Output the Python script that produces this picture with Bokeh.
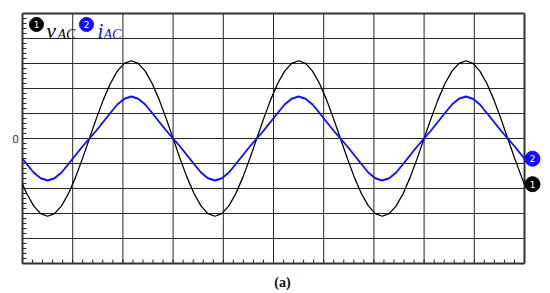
from bokeh.plotting import figure
from bokeh.models import Range1d, FixedTicker
from bokeh.core.properties import value
from bokeh.embed import file_html
from bokeh.resources import INLINE

# ---- data (electrical angle in degrees, v_AC in volts, i_AC in amperes) ----
angle_deg = [-144] + list(range(-135, 931, 15)) + [936]

v_ac = [-182.8, -219.9, -269.3, -300.4, -311.0, -300.4, -269.3, -219.9, -155.5, -80.5,
        0.0, 80.5, 155.5, 219.9, 269.3, 300.4, 311.0, 300.4, 269.3, 219.9, 155.5, 80.5,
        0.0, -80.5, -155.5, -219.9, -269.3, -300.4, -311.0, -300.4, -269.3, -219.9, -155.5, -80.5,
        0.0, 80.5, 155.5, 219.9, 269.3, 300.4, 311.0, 300.4, 269.3, 219.9, 155.5, 80.5,
        0.0, -80.5, -155.5, -219.9, -269.3, -300.4, -311.0, -300.4, -269.3, -219.9, -155.5, -80.5,
        0.0, 80.5, 155.5, 219.9, 269.3, 300.4, 311.0, 300.4, 269.3, 219.9, 155.5, 80.5,
        0.0, -80.5, -155.5, -182.8]

i_ac = [-0.81, -1.02, -1.36, -1.59, -1.68, -1.59, -1.36, -1.02, -0.67, -0.32,
        0.0, 0.32, 0.67, 1.02, 1.36, 1.59, 1.68, 1.59, 1.36, 1.02, 0.67, 0.32,
        0.0, -0.32, -0.67, -1.02, -1.36, -1.59, -1.68, -1.59, -1.36, -1.02, -0.67, -0.32,
        0.0, 0.32, 0.67, 1.02, 1.36, 1.59, 1.68, 1.59, 1.36, 1.02, 0.67, 0.32,
        0.0, -0.32, -0.67, -1.02, -1.36, -1.59, -1.68, -1.59, -1.36, -1.02, -0.67, -0.32,
        0.0, 0.32, 0.67, 1.02, 1.36, 1.59, 1.68, 1.59, 1.36, 1.02, 0.67, 0.32,
        0.0, -0.32, -0.67, -0.81]

grid_x = [-144, -36, 72, 180, 288, 396, 504, 612, 720, 828, 936]   # 108 deg/div
grid_y = [-500, -400, -300, -200, -100, 0, 100, 200, 300, 400, 500]  # 100 V/div, 1 A/div
y_tick_labels = {0: "0"}
legend_labels = ["v", "i"]
legend_sub = "AC"

# ---- layout helpers ----
x_lo, x_hi = grid_x[0], grid_x[-1]
y_lo, y_hi = grid_y[0], grid_y[-1]
box_w, box_h = 502, 251
deg_px = (x_hi - x_lo) / box_w
v_px = (y_hi - y_lo) / box_h
i_scale = 100.0

p = figure(width=546, height=292, output_backend="svg", toolbar_location=None,
           x_range=Range1d(x_lo - 2 * deg_px, x_hi + 20 * deg_px),
           y_range=Range1d(y_lo - 2 * v_px, y_hi + 2 * v_px),
           min_border_left=20, min_border_right=2, min_border_top=11, min_border_bottom=26)
p.extra_y_ranges = {"i": Range1d((y_lo - 2 * v_px) / i_scale, (y_hi + 2 * v_px) / i_scale)}
p.outline_line_color = None
p.xgrid.visible = False
p.ygrid.visible = False
p.background_fill_color = "white"
p.border_fill_color = "white"

# left axis only for the "0" label
p.yaxis.ticker = FixedTicker(ticks=list(y_tick_labels.keys()))
p.yaxis.major_label_overrides = y_tick_labels
p.yaxis.axis_line_color = None
p.yaxis.major_tick_line_color = None
p.yaxis.minor_tick_line_color = None
p.yaxis.major_tick_out = 0
p.yaxis.major_tick_in = 0
p.yaxis.major_label_standoff = 2
p.yaxis.major_label_text_font = "Liberation Sans"
p.yaxis.major_label_text_font_size = "11px"
p.yaxis.major_label_text_color = "#222222"

# bottom axis only for the "(a)" caption
p.xaxis.ticker = FixedTicker(ticks=[])
p.xaxis.axis_line_color = None
p.xaxis.major_tick_line_color = None
p.xaxis.minor_tick_line_color = None
p.xaxis.major_tick_out = 0
p.xaxis.major_label_text_font_size = "0px"
p.xaxis.axis_label = "(a)"
p.xaxis.axis_label_text_font = "Liberation Serif"
p.xaxis.axis_label_text_font_style = "bold"
p.xaxis.axis_label_text_font_size = "14px"
p.xaxis.axis_label_text_color = "#111111"
p.xaxis.axis_label_standoff = 9

grid_col = "#262626"
# inner grid
inner_x = grid_x[1:-1]
inner_y = grid_y[1:-1]
p.segment(x0=inner_x, y0=[y_lo] * len(inner_x), x1=inner_x, y1=[y_hi] * len(inner_x),
          line_color=grid_col, line_width=1)
p.segment(x0=[x_lo] * len(inner_y), y0=inner_y, x1=[x_hi] * len(inner_y), y1=inner_y,
          line_color=grid_col, line_width=1)

# minor ticks on left and bottom edges (5 per division)
tick_y = [y_lo + k * (y_hi - y_lo) / 50 for k in range(51)]
tick_x = [x_lo + k * (x_hi - x_lo) / 50 for k in range(51)]
p.segment(x0=[x_lo] * len(tick_y), y0=tick_y, x1=[x_lo + 4 * deg_px] * len(tick_y), y1=tick_y,
          line_color=grid_col, line_width=1)
p.segment(x0=tick_x, y0=[y_lo] * len(tick_x), x1=tick_x, y1=[y_lo + 4 * v_px] * len(tick_x),
          line_color=grid_col, line_width=1)

# outer box
p.segment(x0=[x_lo, x_hi, x_lo, x_lo], y0=[y_lo, y_lo, y_lo, y_hi],
          x1=[x_lo, x_hi, x_hi, x_hi], y1=[y_hi, y_hi, y_lo, y_hi],
          line_color="#333333", line_width=2)

# waveforms
p.line(angle_deg, v_ac, line_color="black", line_width=1.3)
p.line(angle_deg, i_ac, line_color="#1010ff", line_width=1.9, y_range_name="i")

# channel markers at right end
mx = angle_deg[-1] + 8 * deg_px
p.scatter([mx], [v_ac[-1]], size=15, marker="circle", fill_color="black", line_color="black")
p.scatter([mx], [i_ac[-1]], size=15, marker="circle", fill_color="#1010ff", line_color="#1010ff",
          y_range_name="i")
p.text([mx], [v_ac[-1]], text=["1"], text_color="white", text_align="center", text_baseline="middle",
       text_font=value("DejaVu Sans"), text_font_size="9px")
p.text([mx], [i_ac[-1]], text=["2"], text_color="white", text_align="center", text_baseline="middle",
       text_font=value("DejaVu Sans"), text_font_size="9px", y_range_name="i")

# legend (top-left)
def px2x(px):
    return x_lo + (px - 22) * deg_px

def py2y(py):
    return (y_hi + y_lo) / 2 + (138.5 - py) * v_px

leg_y = py2y(24)
for cx, col, num, lab, lx, sx in [(36, "black", "1", legend_labels[0], 46, 57),
                                  (86, "#1010ff", "2", legend_labels[1], 97, 103)]:
    p.scatter([px2x(cx)], [leg_y], size=14, marker="circle", fill_color=col, line_color=col)
    p.text([px2x(cx)], [leg_y], text=[num], text_color="white", text_align="center",
           text_baseline="middle", text_font=value("DejaVu Sans"), text_font_size="9px")
    p.text([px2x(lx)], [py2y(31)], text=[lab], text_color=col, text_align="left",
           text_baseline="alphabetic", text_font=value("Liberation Serif"),
           text_font_style="italic", text_font_size="21px")
    p.text([px2x(sx)], [py2y(34.5)], text=[legend_sub], text_color=col, text_align="left",
           text_baseline="alphabetic", text_font=value("Liberation Serif"),
           text_font_style="italic", text_font_size="14px")

open("out.html", "w").write(file_html(p, INLINE))
